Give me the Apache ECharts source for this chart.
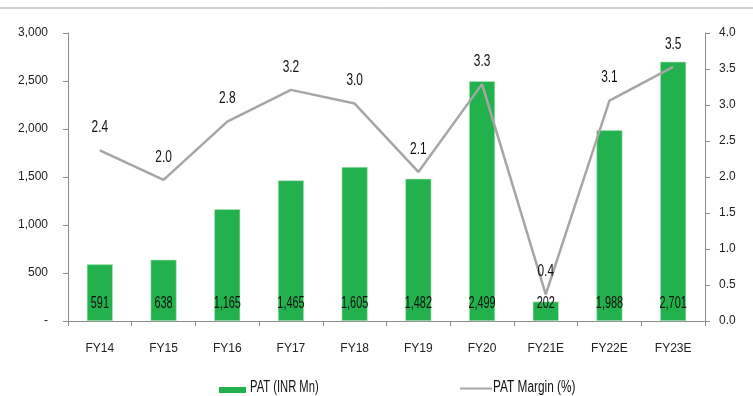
<!DOCTYPE html>
<html>
<head>
<meta charset="utf-8">
<script src="https://cdn.jsdelivr.net/npm/echarts@6/dist/echarts.min.js"></script>
<style>
  html, body { margin: 0; padding: 0; background: #fff; }
  #chart { width: 753px; height: 396px; }
</style>
</head>
<body>
<div id="chart"></div>
<script>
// Fiscal years shown along the x axis
const categories = ['FY14', 'FY15', 'FY16', 'FY17', 'FY18', 'FY19', 'FY20', 'FY21E', 'FY22E', 'FY23E'];
// Profit after tax, INR million
const patValues = [591, 638, 1165, 1465, 1605, 1482, 2499, 202, 1988, 2701];
// PAT margin, percent
const marginValues = [2.37, 1.96, 2.77, 3.21, 3.02, 2.07, 3.29, 0.37, 3.06, 3.53];
// Series names used in the legend
const seriesNames = ['PAT (INR Mn)', 'PAT Margin (%)'];
// Axis tick settings
const leftTicks = { min: 0, max: 3000, interval: 500 };
const rightTicks = { min: 0, max: 4, interval: 0.5 };

const FONT = "'Liberation Sans', Arial, sans-serif";
const AXIS_COLOR = '#8c8c8c';
const TEXT_COLOR = '#222';
const BAR_COLOR = '#22b14c';
const LINE_COLOR = '#a6a6a6';
// Narrow value labels: a regular face squeezed horizontally
const LABEL_FONT = "17px 'Liberation Sans', Arial, sans-serif";
const LABEL_SQUEEZE = 0.64;

const fmtInt = v => v.toLocaleString('en-US');

function squeezedText(x, y, text, font, squeeze, align) {
  return {
    type: 'text', x: x, y: y, scaleX: squeeze,
    style: { text: text, x: 0, y: 0, font: font, fill: '#111',
             align: align || 'center', verticalAlign: 'middle' }
  };
}

const chart = echarts.init(document.getElementById('chart'), null, { renderer: 'canvas' });

chart.setOption({
  animation: false,
  backgroundColor: '#fff',
  textStyle: { fontFamily: FONT },
  graphic: [
    // rule under the heading
    { type: 'line', shape: { x1: 0, y1: 8, x2: 753, y2: 8 },
      style: { stroke: '#a0a0a0', lineWidth: 1 } },
    // legend
    { type: 'rect', shape: { x: 219, y: 387, width: 27, height: 6 }, style: { fill: BAR_COLOR } },
    squeezedText(250, 388, seriesNames[0], "16px 'Liberation Sans', Arial, sans-serif", 0.70, 'left'),
    { type: 'line', shape: { x1: 460, y1: 388.5, x2: 492, y2: 388.5 },
      style: { stroke: LINE_COLOR, lineWidth: 2 } },
    squeezedText(493, 388, seriesNames[1], "16px 'Liberation Sans', Arial, sans-serif", 0.74, 'left')
  ],
  grid: { left: 68, right: 48, top: 33, bottom: 75, containLabel: false },
  xAxis: {
    type: 'category',
    data: categories,
    boundaryGap: true,
    axisLine: { lineStyle: { color: AXIS_COLOR, width: 1 } },
    axisTick: { show: true, alignWithLabel: false, length: 5, lineStyle: { color: AXIS_COLOR } },
    axisLabel: { color: TEXT_COLOR, fontSize: 12, margin: 22, fontFamily: FONT }
  },
  yAxis: [{
    type: 'value',
    min: leftTicks.min, max: leftTicks.max, interval: leftTicks.interval,
    position: 'left',
    axisLine: { show: true, lineStyle: { color: AXIS_COLOR, width: 1 } },
    axisTick: { show: true, length: 5, lineStyle: { color: AXIS_COLOR } },
    splitLine: { show: false },
    axisLabel: {
      color: TEXT_COLOR, fontSize: 12, margin: 20, fontFamily: FONT,
      formatter: v => v === 0 ? '-' : fmtInt(v)
    }
  }, {
    type: 'value',
    min: rightTicks.min, max: rightTicks.max, interval: rightTicks.interval,
    position: 'right',
    axisLine: { show: true, lineStyle: { color: AXIS_COLOR, width: 1 } },
    axisTick: { show: true, length: 5, lineStyle: { color: AXIS_COLOR } },
    splitLine: { show: false },
    axisLabel: {
      color: TEXT_COLOR, fontSize: 12, margin: 14, fontFamily: FONT,
      formatter: v => v.toFixed(1)
    }
  }],
  series: [{
    name: seriesNames[0],
    type: 'bar',
    yAxisIndex: 0,
    data: patValues,
    barWidth: 26,
    itemStyle: { color: BAR_COLOR, borderColor: '#b9e6c4', borderWidth: 0.6 },
    z: 2
  }, {
    name: seriesNames[1],
    type: 'line',
    yAxisIndex: 1,
    data: marginValues,
    symbol: 'none',
    lineStyle: { color: LINE_COLOR, width: 2.5 },
    itemStyle: { color: LINE_COLOR },
    z: 3
  }, {
    // PAT value printed near the foot of each bar
    type: 'custom',
    yAxisIndex: 0,
    silent: true,
    z: 5,
    data: patValues.map((v, i) => [i, v]),
    renderItem: (params, api) => {
      const base = api.coord([api.value(0), 0]);
      return squeezedText(base[0], base[1] - 18, fmtInt(api.value(1)), LABEL_FONT, LABEL_SQUEEZE);
    }
  }, {
    // margin value printed above each line vertex
    type: 'custom',
    yAxisIndex: 1,
    silent: true,
    z: 5,
    data: marginValues.map((v, i) => [i, v]),
    renderItem: (params, api) => {
      const pt = api.coord([api.value(0), api.value(1)]);
      return squeezedText(pt[0], pt[1] - 23, api.value(1).toFixed(1), LABEL_FONT, LABEL_SQUEEZE + 0.06);
    }
  }]
});
</script>
</body>
</html>
